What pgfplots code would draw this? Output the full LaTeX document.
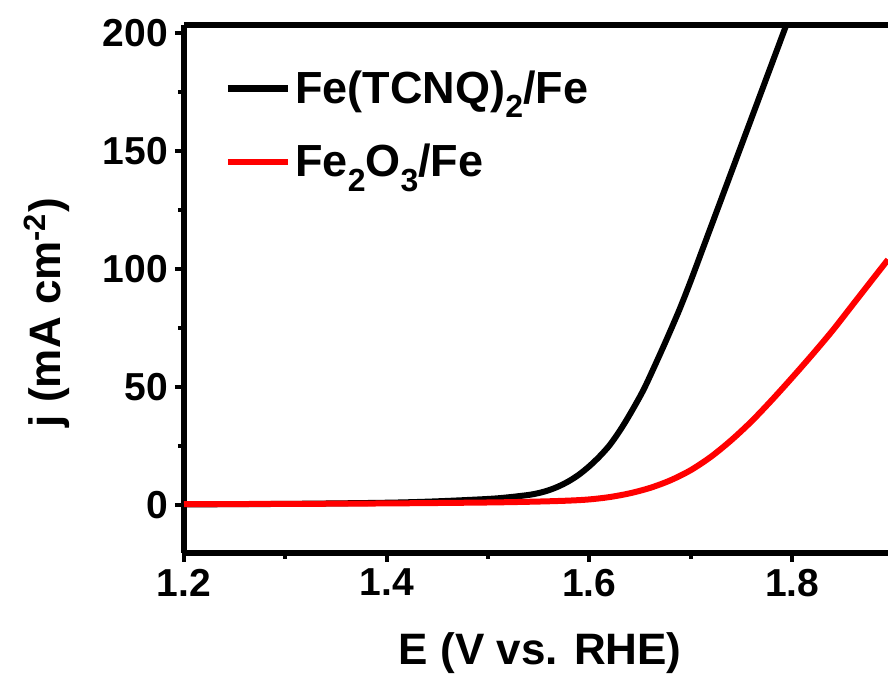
\documentclass[border=0pt]{standalone}
\usepackage{fontspec}
\setmainfont{Liberation Sans}
\usepackage{pgfplots}
\pgfplotsset{compat=1.18}
\newcommand{\sub}[1]{\raisebox{-0.32em}{\fontsize{16}{18}\selectfont #1}}
\begin{document}
\begin{tikzpicture}
\begin{axis}[
  at={(0pt,0pt)}, anchor=south west,
  scale only axis, width=352pt, height=264pt,
  xmin=1.2, xmax=1.8946, ymin=-20.3, ymax=203.4,
  axis x line*=box, axis y line*=left,
  xtick={1.2,1.4,1.6,1.8}, ytick={0,50,100,150,200},
  xticklabels={1.2,1.4,1.6,1.8},
  minor x tick num=1, minor y tick num=1,
  xtick pos=bottom, ytick pos=left,
  tick align=outside,
  major tick length=4.5pt, minor tick length=3pt,
  every tick/.style={line width=2pt, black},
  axis line style={line width=3pt},
  /pgf/number format/assume math mode=true,
  tick label style={font=\bfseries\fontsize{19.5}{23}\selectfont},
  xlabel={E (V vs. RHE)}, ylabel={j (mA cm\textsuperscript{-2})},
  label style={font=\bfseries\fontsize{22}{26}\selectfont},
  x label style={at={(axis description cs:0.506,-0.19)}, anchor=center},
  y label style={at={(axis description cs:-0.195,0.455)}, anchor=center, rotate=0},
  legend style={at={(axis description cs:0.057,0.922)}, anchor=north west, draw=none, fill=none,
    font=\bfseries\fontsize{22.5}{26}\selectfont, row sep=15pt, inner sep=0pt,
    nodes={inner sep=2pt}},
  legend cell align=left,
  legend image code/.code={\draw[#1, line width=3.4pt] (0pt,0pt) -- (30pt,0pt);},
]
\addplot[black, line width=3pt, smooth] coordinates {
(1.20,0.3) (1.30,0.5) (1.40,1.0) (1.45,1.6) (1.50,2.6) (1.52,3.3) (1.54,4.3)
(1.55,5.1) (1.56,6.3) (1.57,8.0) (1.58,10.2) (1.59,13.0) (1.60,16.5) (1.61,20.6) (1.62,25.4)
(1.63,31.5) (1.64,38.5) (1.653,48.5) (1.665,59.5) (1.677,71) (1.689,83)
(1.70,95) (1.71,106.5) (1.72,118) (1.73,129.5) (1.74,141) (1.75,152.5)
(1.76,164) (1.77,175.5) (1.78,187) (1.79,198.5) (1.80,210)
};
\addlegendentry{Fe(TCNQ)\sub{2}/Fe}
\addplot[red, line width=3pt, smooth] coordinates {
(1.20,0.4) (1.30,0.5) (1.40,0.7) (1.50,1.1) (1.55,1.5) (1.58,1.9) (1.60,2.4)
(1.62,3.4) (1.64,5.0) (1.66,7.3) (1.68,10.5) (1.70,14.8) (1.72,20.5) (1.74,27.5)
(1.76,35.5) (1.78,44.5) (1.80,54) (1.82,63.8) (1.84,74) (1.86,85) (1.88,96) (1.8946,104)
};
\addlegendentry{Fe\sub{2}O\sub{3}/Fe}
\end{axis}
\pgfresetboundingbox
\path[use as bounding box] (-92pt,-62.5pt) rectangle (352pt,276.5pt);
\end{tikzpicture}
\end{document}
